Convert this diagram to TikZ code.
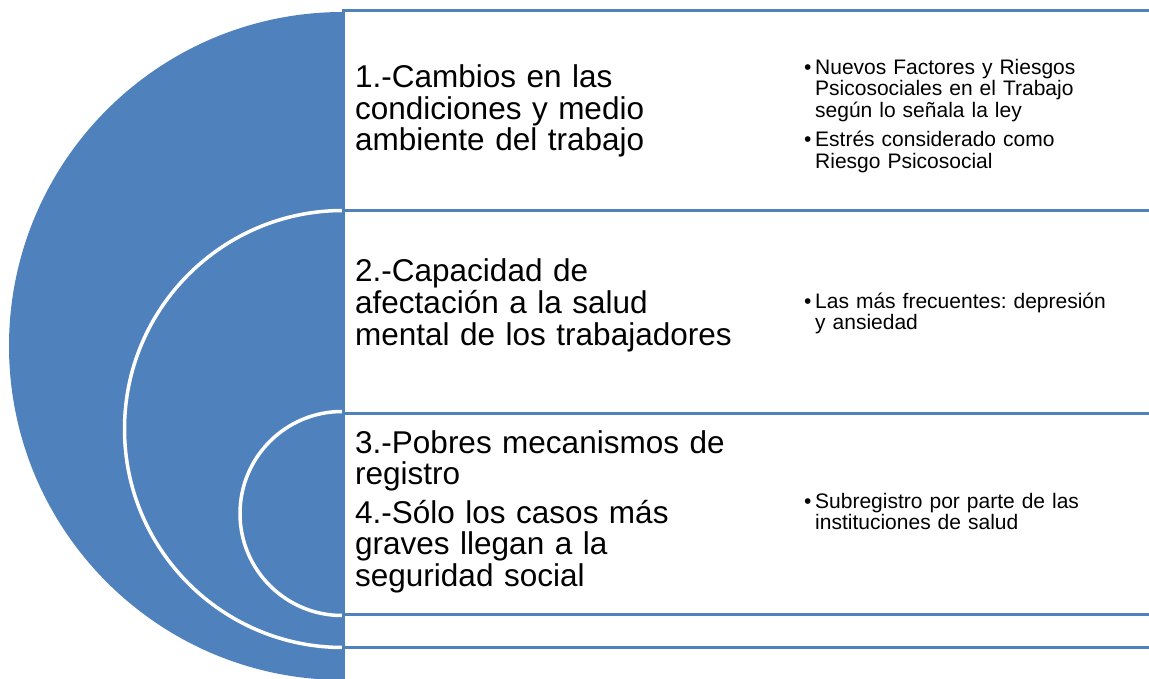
\documentclass[tikz,border=0pt]{standalone}
\usepackage{fontspec}
\setmainfont{Liberation Sans}
\definecolor{ablue}{HTML}{4F81BD}
\newcommand\mybul{\makebox[11pt][l]{•}}
\newcommand\myind{\hspace*{11pt}}
\frenchspacing
\begin{document}
\begin{tikzpicture}[x=1pt,y=-1pt,
  maintext/.style={anchor=base west, inner sep=0pt, text width=420pt, align=left, font=\fontsize{31.5}{31.5}\selectfont},
  bultext/.style={anchor=base west, inner sep=0pt, text width=340pt, align=left, font=\fontsize{21}{21.5}\selectfont},
  boxrow/.style={fill=white, draw=ablue, line width=3pt},
  ring/.style={fill=ablue, draw=white, line width=3.5pt}]
\useasboundingbox (0,0) rectangle (1149,679);
\begin{scope}
  \clip (0,0) rectangle (343,679);
  \fill[ablue] (343,346) circle[radius=334pt];
  \draw[ring] (343,429) circle[radius=218.5pt];
  \draw[ring] (342,513.5) circle[radius=102pt];
\end{scope}
\draw[boxrow] (343,10.5) rectangle (1175,695);
\draw[boxrow] (343,211) rectangle (1175,647.5);
\draw[boxrow] (343,413) rectangle (1175,614);

\node[maintext] (t1) at (355,88) {1.-Cambios en las\\condiciones y medio\\ambiente del trabajo};
\node[maintext] (t2) at (355,282) {2.-Capacidad de\\afectación a la salud\\mental de los trabajadores};
\node[maintext] (t3) at (355,453) {3.-Pobres mecanismos de\\registro};
\node[maintext] (t4) at (355,523) {4.-Sólo los casos más\\graves llegan a la\\seguridad social};

\node[bultext] (b1) at (804,74.5) {\mybul Nuevos Factores y Riesgos\\\myind Psicosociales en el Trabajo\\\myind según lo señala la ley};
\node[bultext] (b2) at (804,146.7) {\mybul Estrés considerado como\\\myind Riesgo Psicosocial};
\node[bultext] (b3) at (804,308.3) {\mybul Las más frecuentes: depresión\\\myind y ansiedad};
\node[bultext] (b4) at (804,508.3) {\mybul Subregistro por parte de las\\\myind instituciones de salud};
\end{tikzpicture}
\end{document}
